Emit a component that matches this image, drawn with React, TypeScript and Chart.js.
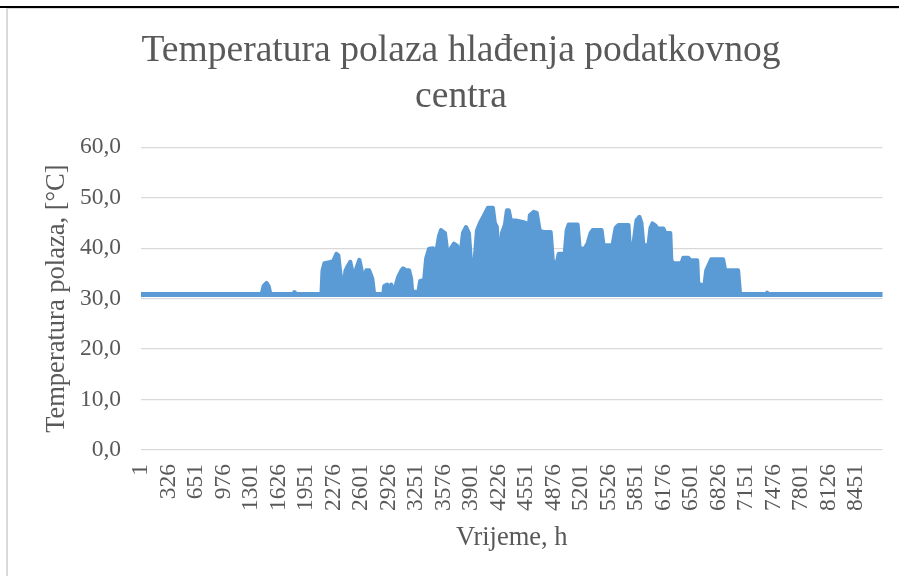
import React, { useEffect, useRef } from "react";
import { Chart, registerables } from "chart.js";

Chart.register(...registerables);

const titleLines = ["Temperatura polaza hlađenja podatkovnog", "centra"];
const yAxisTitle = "Temperatura polaza, [°C]";
const xAxisTitle = "Vrijeme, h";

const xTickLabels = [
  1, 326, 651, 976, 1301, 1626, 1951, 2276, 2601, 2926, 3251, 3576, 3901, 4226,
  4551, 4876, 5201, 5526, 5851, 6176, 6501, 6826, 7151, 7476, 7801, 8126, 8451,
];

const baselineHours = [1, 8760];
const baselineValues = [30.8, 30.8];

const envelopeHours = [
  1425, 1449, 1484, 1508, 1531, 1790, 1814, 1838, 2132, 2144, 2167, 2226, 2273,
  2309, 2332, 2356, 2391, 2415, 2438, 2473, 2497, 2521, 2544, 2580, 2603, 2627,
  2662, 2697, 2733, 2756, 2862, 2874, 2909, 2933, 2956, 2980, 3004, 3015, 3039,
  3074, 3098, 3133, 3168, 3192, 3204, 3275, 3298, 3345, 3369, 3404, 3451, 3486,
  3522, 3545, 3592, 3628, 3663, 3698, 3734, 3769, 3804, 3840, 3875, 3899, 3934,
  3969, 4005, 4052, 4099, 4158, 4181, 4205, 4228, 4264, 4299, 4323, 4346, 4370,
  4429, 4511, 4546, 4570, 4594, 4641, 4676, 4711, 4758, 4841, 4864, 4888, 4911,
  4935, 5006, 5029, 5053, 5159, 5183, 5241, 5277, 5312, 5336, 5442, 5465, 5571,
  5607, 5642, 5760, 5783, 5795, 5819, 5854, 5889, 5913, 5936, 5995, 6019, 6042,
  6077, 6101, 6172, 6195, 6254, 6266, 6290, 6384, 6407, 6466, 6490, 6572, 6584,
  6655, 6678, 6737, 6878, 6902, 7055, 7079, 7380, 7397, 7414,
];

const envelopeValues = [
  30.8, 32.5, 33.1, 32.5, 30.8, 30.8, 31.3, 30.8, 30.8, 35.5, 37.0, 37.2, 37.5,
  38.9, 38.6, 35.0, 31.5, 35.5, 36.3, 37.3, 35.5, 34.0, 36.0, 37.7, 36.0, 33.5,
  35.6, 35.6, 34.0, 30.8, 30.8, 32.5, 32.8, 31.5, 32.8, 32.0, 31.0, 33.0, 34.3,
  35.5, 36.0, 35.6, 35.6, 34.0, 31.5, 31.2, 33.5, 33.7, 38.0, 39.9, 40.0, 39.0,
  42.5, 43.6, 43.0, 38.0, 40.0, 40.9, 40.5, 38.0, 43.0, 44.2, 43.0, 37.3, 36.0,
  43.5, 45.0, 46.5, 48.0, 48.0, 45.0, 44.2, 36.0, 43.0, 44.6, 47.5, 47.5, 45.5,
  45.5, 45.2, 45.0, 42.0, 46.5, 47.2, 47.0, 43.5, 43.2, 43.2, 38.0, 35.6, 37.0,
  38.9, 38.9, 43.5, 44.7, 44.7, 40.0, 39.9, 41.0, 43.0, 43.6, 43.6, 40.6, 40.6,
  44.0, 44.6, 44.6, 38.0, 36.6, 41.0, 45.5, 46.2, 45.0, 40.6, 40.6, 44.0, 44.9,
  44.5, 43.9, 43.9, 43.0, 43.0, 37.6, 37.0, 37.0, 38.1, 38.1, 37.6, 37.6, 33.0,
  32.5, 35.6, 37.8, 37.8, 35.6, 35.6, 30.8, 30.8, 31.2, 30.8,
];

const BLUE = "#5B9BD5";
const TEXT = "#595959";
const GRID = "#D9D9D9";
const FONT = "'Liberation Serif', 'Times New Roman', serif";

export default function App() {
  const canvasRef = useRef<HTMLCanvasElement | null>(null);

  useEffect(() => {
    const canvas = canvasRef.current;
    if (!canvas) return;
    const chart = new Chart(canvas, {
      type: "line",
      data: {
        datasets: [
          {
            label: "base",
            data: baselineHours.map((h, i) => ({ x: h, y: baselineValues[i] })),
            borderColor: BLUE,
            borderWidth: 5,
            pointRadius: 0,
            borderCapStyle: "round",
            fill: false,
          },
          {
            label: "envelope",
            data: envelopeHours.map((h, i) => ({ x: h, y: envelopeValues[i] })),
            borderColor: BLUE,
            backgroundColor: BLUE,
            borderWidth: 4,
            borderJoinStyle: "round",
            borderCapStyle: "round",
            pointRadius: 0,
            tension: 0,
            fill: { value: 30.5 },
          },
        ],
      },
      options: {
        animation: false,
        responsive: false,
        maintainAspectRatio: false,
        layout: { padding: { top: 19, left: 37, right: 14, bottom: 18 } },
        plugins: {
          legend: { display: false },
          tooltip: { enabled: false },
          title: {
            display: true,
            text: titleLines,
            color: TEXT,
            font: { family: FONT, size: 37.6, weight: "normal", lineHeight: 1.2 },
            padding: { top: 10, bottom: 28 },
          },
        },
        scales: {
          x: {
            type: "linear",
            min: 0.5,
            max: 8760.5,
            grid: { display: false, drawTicks: false },
            border: { display: false },
            afterBuildTicks: (scale: any) => {
              scale.ticks = xTickLabels.map((v) => ({ value: v }));
            },
            afterFit: (scale: any) => {
              scale.height = 108;
            },
            ticks: {
              autoSkip: false,
              minRotation: 90,
              maxRotation: 90,
              padding: 14,
              color: TEXT,
              font: { family: FONT, size: 23.5 },
              callback: (v: any) => String(v),
            },
            title: {
              display: true,
              text: xAxisTitle,
              color: TEXT,
              font: { family: FONT, size: 26.5, lineHeight: 1.2 },
              padding: { top: 0, bottom: 4 },
            },
          },
          y: {
            min: 0,
            max: 60,
            grid: { color: GRID, lineWidth: 1.3, drawTicks: false },
            border: { display: false },
            afterFit: (scale: any) => {
              scale.width = 104;
            },
            ticks: {
              stepSize: 10,
              padding: 20,
              color: TEXT,
              font: { family: FONT, size: 23.5 },
              callback: (v: any) => Number(v).toFixed(1).replace(".", ","),
            },
            title: {
              display: true,
              text: yAxisTitle,
              color: TEXT,
              font: { family: FONT, size: 26.5, lineHeight: 1.2 },
              padding: { top: 4, bottom: 4 },
            },
          },
        },
      },
    });
    return () => chart.destroy();
  }, []);

  return (
    <div
      style={{
        position: "fixed",
        left: 0,
        top: 0,
        width: 899,
        height: 576,
        background: "#fff",
        overflow: "hidden",
      }}
    >
      <canvas ref={canvasRef} width={899} height={576} style={{ position: "absolute", left: 0, top: 0 }} />
      <div style={{ position: "absolute", left: 0, top: 6, width: 899, height: 2, background: "#000" }} />
      <div style={{ position: "absolute", left: 6, top: 8, width: 893, height: 1, background: GRID }} />
      <div style={{ position: "absolute", left: 6, top: 8, width: 2, height: 568, background: GRID }} />
    </div>
  );
}
